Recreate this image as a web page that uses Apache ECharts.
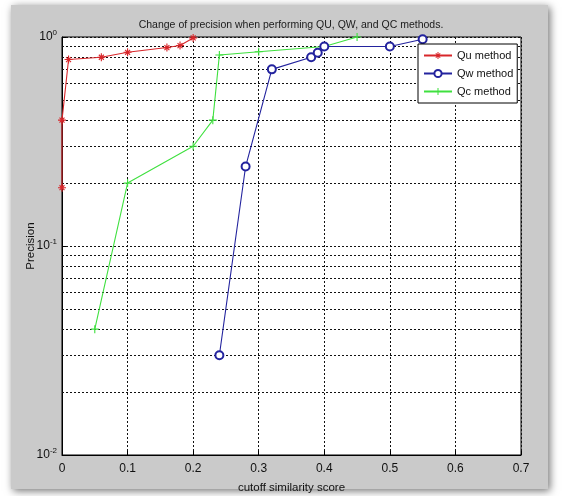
<!DOCTYPE html>
<html>
<head>
<meta charset="utf-8">
<script src="https://cdn.jsdelivr.net/npm/echarts@6/dist/echarts.min.js"></script>
<style>
html,body{margin:0;padding:0;background:#fff;}
#c{width:564px;height:496px;}
</style>
</head>
<body>
<div id="c"></div>
<script>
// ---- data ----
const quX = [0, 0, 0.01, 0.06, 0.1, 0.16, 0.18, 0.2];
const quY = [0.19, 0.4, 0.78, 0.8, 0.845, 0.89, 0.91, 0.99];
const qwX = [0.24, 0.28, 0.32, 0.38, 0.39, 0.4, 0.5, 0.55];
const qwY = [0.03, 0.24, 0.7, 0.8, 0.84, 0.9, 0.9, 0.975];
const qcX = [0.05, 0.1, 0.2, 0.23, 0.24, 0.3, 0.4, 0.45];
const qcY = [0.04, 0.2, 0.3, 0.4, 0.82, 0.85, 0.9, 1.0];
const seriesNames = ['Qu method', 'Qw method', 'Qc method'];
const xTicks = [0, 0.1, 0.2, 0.3, 0.4, 0.5, 0.6, 0.7];
const yMinorGrid = [0.02, 0.03, 0.04, 0.05, 0.06, 0.07, 0.08, 0.09, 0.2, 0.3, 0.4, 0.5, 0.6, 0.7, 0.8, 0.9];
const yTickExp = {1: '0', 0.1: '-1', 0.01: '-2'};

const FONT = "'Liberation Sans', Arial, Helvetica, sans-serif";
const pair = (xs, ys) => xs.map((x, i) => [x, ys[i]]);

const plusPath = 'path://M-0.7,-5 L0.7,-5 L0.7,-0.7 L5,-0.7 L5,0.7 L0.7,0.7 L0.7,5 L-0.7,5 L-0.7,0.7 L-5,0.7 L-5,-0.7 L-0.7,-0.7 Z';
const starPath = 'path://M-0.7,-5 L0.7,-5 L0.7,5 L-0.7,5 Z M-5,-0.7 L5,-0.7 L5,0.7 L-5,0.7 Z M-3.6,-2.6 L-2.6,-3.6 L3.6,2.6 L2.6,3.6 Z M2.6,-3.6 L3.6,-2.6 L-2.6,3.6 L-3.6,2.6 Z';

const colors = ['#d8262a', '#23239e', '#3fe03f'];
const gridLine = {color: '#111', width: 1, type: [2, 2]};

const chart = echarts.init(document.getElementById('c'), null, {renderer: 'canvas'});
chart.setOption({
  animation: false,
  backgroundColor: '#fff',
  graphic: [{
    type: 'rect', z: -10, silent: true,
    shape: {x: 11, y: 5, width: 537, height: 484},
    style: {fill: '#cacaca', shadowBlur: 8, shadowColor: 'rgba(0,0,0,0.55)', shadowOffsetX: 2, shadowOffsetY: 2}
  }],
  title: {
    text: 'Change of precision when performing QU, QW, and QC methods.',
    left: 291, top: 20, textAlign: 'center', padding: 0,
    textStyle: {fontFamily: FONT, fontSize: 10.5, fontWeight: 'normal', color: '#1a1a1a'}
  },
  legend: {
    data: seriesNames,
    orient: 'vertical',
    left: 418, top: 44,
    z: 50,
    padding: [4, 4, 4, 5],
    itemGap: 3,
    itemWidth: 28, itemHeight: 9,
    backgroundColor: '#fff',
    borderColor: '#000', borderWidth: 1, borderRadius: 0,
    textStyle: {fontFamily: FONT, fontSize: 11, color: '#111', lineHeight: 15}
  },
  grid: {left: 62, right: 43, top: 37, bottom: 41, show: true, backgroundColor: '#fff', borderColor: '#000', borderWidth: 1,
    outerBoundsMode: 'none', containLabel: false},
  xAxis: {
    type: 'value', min: 0, max: 0.7, interval: 0.1,
    name: 'cutoff similarity score', nameLocation: 'middle', nameGap: 27, nameMoveOverlap: false,
    nameTextStyle: {fontFamily: FONT, fontSize: 11.5, color: '#111'},
    axisLine: {lineStyle: {color: '#000'}},
    axisTick: {inside: true, length: 4, lineStyle: {color: '#000'}},
    axisLabel: {fontFamily: FONT, fontSize: 12, color: '#111', margin: 8,
      formatter: v => { const t = xTicks.find(k => Math.abs(k - v) < 1e-9); return t === undefined ? '' : String(t); }},
    splitLine: {show: true, lineStyle: gridLine}
  },
  yAxis: {
    type: 'log', logBase: 10, min: 0.01, max: 1,
    name: 'Precision', nameLocation: 'middle', nameGap: 25, nameRotate: 90, nameMoveOverlap: false,
    nameTextStyle: {fontFamily: FONT, fontSize: 11.5, color: '#111'},
    axisLine: {lineStyle: {color: '#000'}},
    axisTick: {inside: true, length: 4, lineStyle: {color: '#000'}},
    axisLabel: {
      margin: 5, fontFamily: FONT, fontSize: 12, color: '#111',
      formatter: v => { const k = Object.keys(yTickExp).find(key => Math.abs(Math.log10(+key) - Math.log10(v)) < 1e-6); return k === undefined ? '' : '10{s|' + yTickExp[k] + '}'; },
      rich: {s: {fontFamily: FONT, fontSize: 8, color: '#111', verticalAlign: 'top', padding: [0, 0, 8, 0]}}
    },
    splitLine: {show: true, lineStyle: gridLine}
  },
  series: [
    {
      name: 'grid-minor', type: 'line', data: [], silent: true, z: 1,
      markLine: {silent: true, symbol: 'none', label: {show: false}, lineStyle: gridLine, animation: false, z: 1,
        data: yMinorGrid.map(v => ({yAxis: v}))}
    },
    {
      name: seriesNames[0], type: 'line', data: pair(quX, quY),
      color: colors[0], symbol: starPath, symbolSize: 8, symbolKeepAspect: true,
      lineStyle: {width: 1.1, color: colors[0]}, itemStyle: {color: colors[0]}, z: 3
    },
    {
      name: seriesNames[1], type: 'line', data: pair(qwX, qwY),
      color: colors[1], symbol: 'emptyCircle', symbolSize: 8,
      lineStyle: {width: 1.1, color: colors[1]}, itemStyle: {color: colors[1], borderWidth: 1.1}, z: 4
    },
    {
      name: seriesNames[2], type: 'line', data: pair(qcX, qcY),
      color: colors[2], symbol: plusPath, symbolSize: 8, symbolKeepAspect: true,
      lineStyle: {width: 1.1, color: colors[2]}, itemStyle: {color: colors[2]}, z: 3
    }
  ]
});
</script>
</body>
</html>
